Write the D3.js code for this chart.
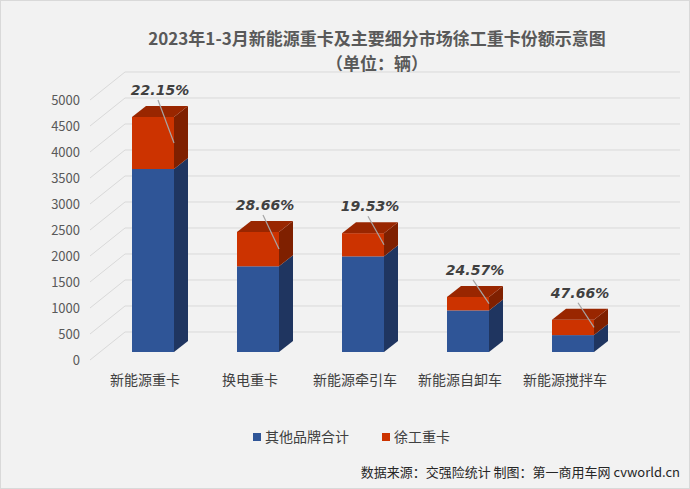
<!DOCTYPE html>
<html><head><meta charset="utf-8">
<script src="https://cdn.jsdelivr.net/npm/d3@7/dist/d3.min.js"></script>
<style>body{margin:0;background:#fff}svg{display:block}text{font-family:"Microsoft YaHei","Noto Sans CJK SC",sans-serif}</style>
</head><body><svg id="chart" width="690" height="489"></svg>
<script>
const categories = ['新能源重卡', '换电重卡', '新能源牵引车', '新能源自卸车', '新能源搅拌车'];
const otherBrands = [3519, 1648, 1839, 800, 325];
const xcmg = [1001, 662, 446, 260, 295];
const shareLabels = ['22.15%', '28.66%', '19.53%', '24.57%', '47.66%'];
const yTicks = [0, 500, 1000, 1500, 2000, 2500, 3000, 3500, 4000, 4500, 5000];
const seriesNames = ['其他品牌合计', '徐工重卡'];

const svg = d3.select('#chart');
svg.append('rect').attr('x', 0.5).attr('y', 0.5).attr('width', 689).attr('height', 488)
    .attr('fill', '#f2f2f2').attr('stroke', '#d9d9d9');

// front-plane axis scale and the bar-face scale (bars sit slightly behind)
const yAxisScale = d3.scaleLinear().domain([0, 5000]).range([360, 100]);
const yBar = d3.scaleLinear().domain([0, 5000]).range([352, 92]);
const x = d3.scaleBand().domain(categories).range([79.5, 646.5]).paddingInner(0.6).paddingOuter(0.5);

const backDx = 35, backDy = -28;
const depthDx = 14, depthDy = -11;

// back wall gridlines + diagonal side lines
const grid = svg.append('g');
yTicks.forEach(v => {
    const yf = yAxisScale(v);
    grid.append('line').attr('x1', 90).attr('y1', yf).attr('x2', 90 + backDx).attr('y2', yf + backDy)
        .attr('stroke', '#d9d9d9').attr('stroke-width', 1);
    grid.append('line').attr('x1', 90 + backDx).attr('y1', yf + backDy).attr('x2', 680).attr('y2', yf + backDy)
        .attr('stroke', '#d9d9d9').attr('stroke-width', 1);
});

const yAxis = d3.axisLeft(yAxisScale).tickValues(yTicks).tickFormat(d3.format('d')).tickSize(0).tickPadding(0);
const ag = svg.append('g').attr('transform', 'translate(80,0)').call(yAxis);
ag.select('.domain').remove();
ag.selectAll('text').attr('fill', '#595959').style('font-size', '13px')
    .style('font-family', '"Microsoft YaHei","Noto Sans CJK SC",sans-serif');

const colors = [
    { front: '#2f5597', side: '#1f3560', top: '#254682' },
    { front: '#cc3300', side: '#7f2000', top: '#992600' }
];

function drawBlock(g, x0, w, y0, y1, c, withTop) {
    g.append('rect').attr('x', x0).attr('y', y1).attr('width', w).attr('height', y0 - y1).attr('fill', c.front);
    g.append('path').attr('d', `M${x0 + w},${y0}L${x0 + w + depthDx},${y0 + depthDy}L${x0 + w + depthDx},${y1 + depthDy}L${x0 + w},${y1}Z`)
        .attr('fill', c.side);
    if (withTop) {
        g.append('path').attr('d', `M${x0},${y1}L${x0 + depthDx},${y1 + depthDy}L${x0 + w + depthDx},${y1 + depthDy}L${x0 + w},${y1}Z`)
            .attr('fill', c.top);
    }
}

const bars = svg.append('g');
categories.forEach((cat, i) => {
    const x0 = x(cat), w = x.bandwidth();
    const total = otherBrands[i] + xcmg[i];
    drawBlock(bars, x0, w, yBar(0), yBar(otherBrands[i]), colors[0], false);
    drawBlock(bars, x0, w, yBar(otherBrands[i]), yBar(total), colors[1], true);

    const ly = yBar(total) - 22;
    const lx = x0 + w / 2 + 7;
    const midRed = (yBar(otherBrands[i]) + yBar(total)) / 2;
    svg.append('line').attr('x1', lx - 2).attr('y1', ly + 5).attr('x2', x0 + w).attr('y2', midRed)
        .attr('stroke', '#a6a6a6').attr('stroke-width', 1.2);
    svg.append('text').attr('x', lx).attr('y', ly).attr('text-anchor', 'middle')
        .attr('fill', '#404040').style('font-size', '14px').style('font-weight', 'bold').style('font-style', 'italic')
        .style('font-family', '"DejaVu Sans",sans-serif')
        .text(shareLabels[i]);

    svg.append('text').attr('x', x0 + w / 2 - 8).attr('y', 385).attr('text-anchor', 'middle')
        .attr('fill', '#404040').style('font-size', '14px').text(cat);
});

svg.append('text').attr('x', 377).attr('y', 45).attr('text-anchor', 'middle').attr('fill', '#595959')
    .style('font-size', '17px').style('font-weight', 'bold').text('2023年1-3月新能源重卡及主要细分市场徐工重卡份额示意图');
svg.append('text').attr('x', 377).attr('y', 70).attr('text-anchor', 'middle').attr('fill', '#595959')
    .style('font-size', '17px').style('font-weight', 'bold').text('（单位：辆）');

const legendX = [253, 382];
seriesNames.forEach((name, i) => {
    svg.append('rect').attr('x', legendX[i]).attr('y', 433).attr('width', 8).attr('height', 8).attr('fill', colors[i].front);
    svg.append('text').attr('x', legendX[i] + 12).attr('y', 442).attr('fill', '#404040')
        .style('font-size', '14px').text(name);
});

svg.append('text').attr('x', 680).attr('y', 477).attr('text-anchor', 'end').attr('fill', '#262626')
    .style('font-size', '13px').text('数据来源：交强险统计  制图：第一商用车网 cvworld.cn');
</script></body></html>
